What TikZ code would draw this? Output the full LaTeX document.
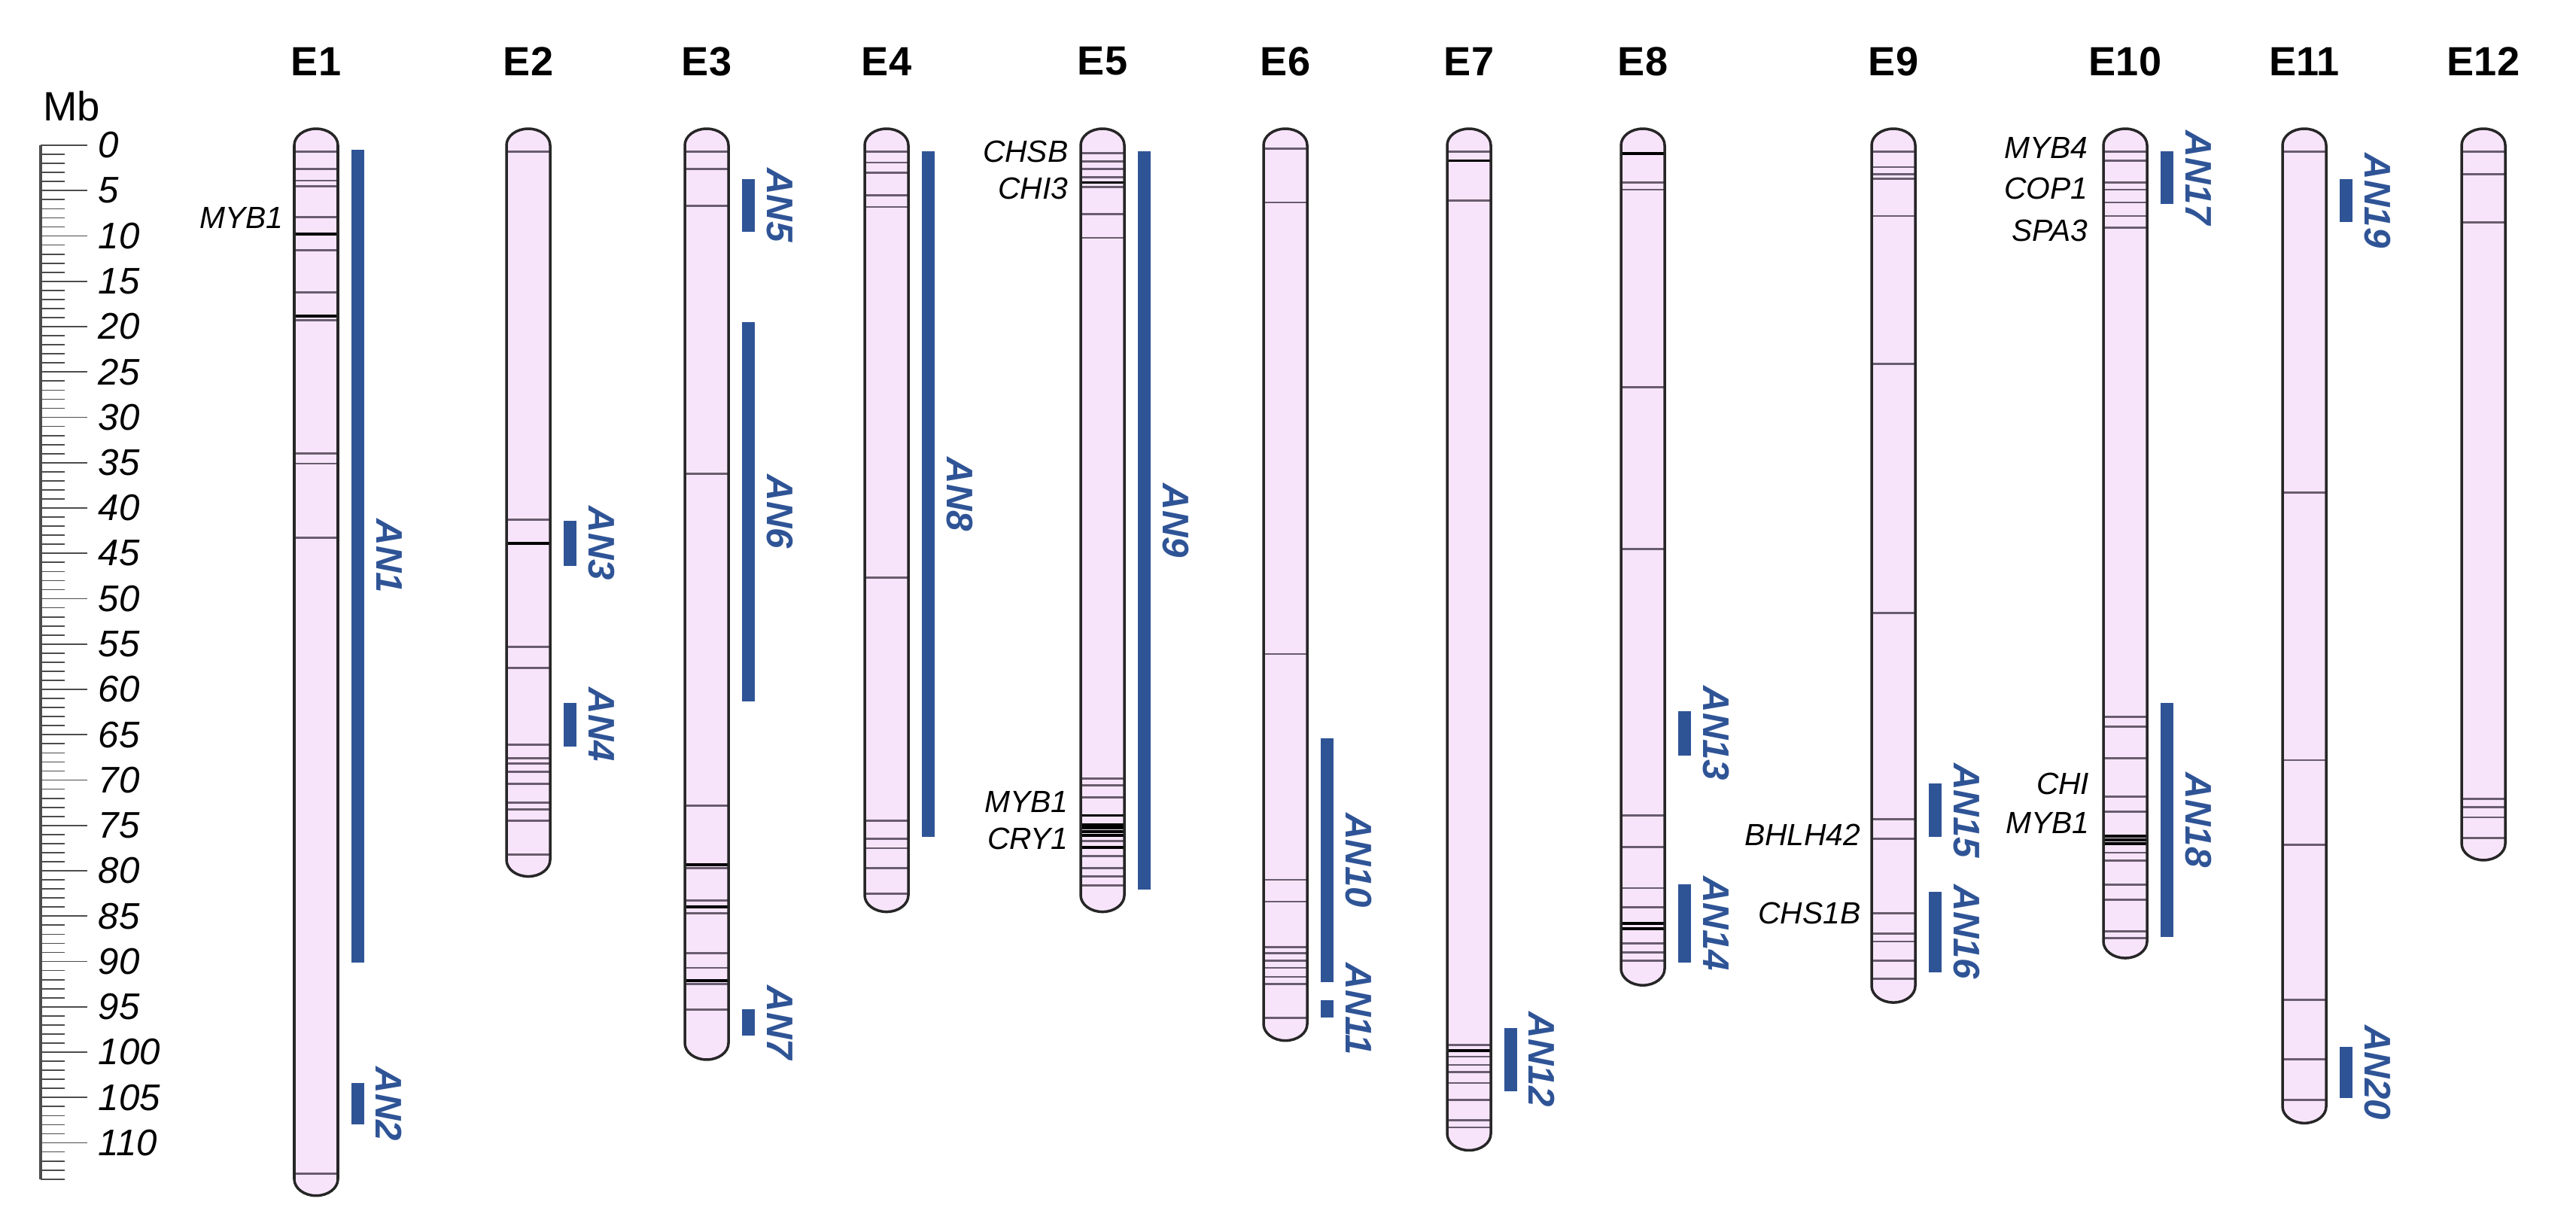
\documentclass[tikz,border=0pt]{standalone}
\usepackage{fontspec}
\setmainfont{Liberation Sans}
\usepackage{xcolor}
\definecolor{chromfill}{RGB}{247,228,250}
\definecolor{anblue}{RGB}{47,84,150}
\definecolor{bandgray}{RGB}{105,92,110}

% linkage group: name, centre x, length (Mb), bands, dark bands
\newcommand{\chrom}[5]{%
  \fill[chromfill] (#2-29,0) arc[start angle=180,end angle=0,x radius=2.9mm,y radius=2.2mm]
    -- (#2+29,#3) arc[start angle=0,end angle=-180,x radius=2.9mm,y radius=2.2mm] -- cycle;
  \foreach \b in {#4} \draw[band] (#2-29,\b) -- (#2+29,\b);
  \if\relax\detokenize{#5}\relax\else
    \foreach \b in {#5} \draw[darkband] (#2-29,\b) -- (#2+29,\b);
  \fi
  \draw[chromo] (#2-29,0) arc[start angle=180,end angle=0,x radius=2.9mm,y radius=2.2mm]
    -- (#2+29,#3) arc[start angle=0,end angle=-180,x radius=2.9mm,y radius=2.2mm] -- cycle;
  \node[chrlab] (#1) at (#2,-9.25) {#1};
}
% QTL bar beside a group: centre x of group, from, to, label
\newcommand{\anbar}[4]{%
  \fill[anblue] (#1+47,#2) rectangle (#1+64,#3);
  \node[anlab] (#4) at (#1+97,{(#2+#3)/2}) {#4};
}

\begin{document}
\begin{tikzpicture}[x=0.1mm, y=-1.205mm,
    chromo/.style = {draw=black!85, line width=1pt},
    band/.style = {draw=bandgray, line width=0.8pt},
    darkband/.style = {draw=black, line width=1.1pt},
    chrlab/.style = {inner sep=0, font=\bfseries\fontsize{15.4}{18}\selectfont},
    genelab/.style = {anchor=east, inner sep=0, font=\itshape\fontsize{11.6}{14}\selectfont},
    anlab/.style = {rotate=-90, inner sep=0, text=anblue, font=\bfseries\itshape\fontsize{14}{16}\selectfont},
    numlab/.style = {anchor=west, inner sep=0, font=\itshape\fontsize{14}{16}\selectfont},
    tick/.style = {draw=black!70, line width=0.5pt}]
  \useasboundingbox (0,-16.02) rectangle (3423,119.83);

  % scale
  \node[inner sep=0, font=\fontsize{15.5}{18}\selectfont] (mb) at (95,-4.3) {Mb};
  \draw[draw=black!70, line width=1.2pt] (54,0) -- (54,114);
  \foreach \i in {0,...,114} \draw[tick] (54,\i) -- (86,\i);
  \foreach \i in {0,5,...,110} {
    \draw[tick] (54,\i) -- (116,\i);
    \node[numlab] (n\i) at (130,\i) {\i};
  }

  \chrom{E1}{420}{114}{0.7,2.6,3.9,4.5,7.9,11.6,16.2,19.3,34.0,35.1,43.3,113.4}{9.8,18.8}
  \chrom{E2}{702}{78.8}{0.7,41.3,55.3,57.6,66.1,67.6,68.2,69.1,70.4,72.5,73.2,74.5,78.2}{43.9}
  \chrom{E3}{939}{99}{0.7,2.6,6.7,36.2,72.8,79.7,83.3,84.7,89.1,90.7,92.5,95.3}{79.3,84.0,92.1}
  \chrom{E4}{1178}{82.7}{0.7,1.9,3.0,5.5,6.8,47.7,74.5,76.5,77.5,79.7,82.5}{}
  \chrom{E5}{1465}{82.7}{0.9,1.75,2.6,3.5,4.6,7.6,10.2,69.8,70.6,71.9,76.7,78.4,79.7,80.6,81.6}{4.1,73.9,74.9,75.3,75.7,76.1,77.4}
  \chrom{E6}{1708}{96.9}{0.4,6.3,56.1,81.0,83.4,88.4,89.1,89.9,90.7,91.7,92.5,96.2}{}
  \chrom{E7}{1952}{109}{0.7,6.1,99.2,100.5,101.4,102.2,103.4,105.3,107.5,108.3}{1.7,99.8}
  \chrom{E8}{2183}{90.8}{4.1,4.9,26.7,44.5,73.9,77.4,81.9,84.0,88.0,89.0,89.9}{0.9,85.8,86.4}
  \chrom{E9}{2516}{92.7}{0.7,2.4,3.2,3.7,7.8,24.1,51.6,74.3,76.5,84.7,86.9,87.8,89.9,91.9}{}
  \chrom{E10}{2824}{87.8}{0.7,1.7,4.1,4.9,6.3,7.8,9.1,63.0,64.1,67.6,71.8,73.5,78.0,78.9,81.5,83.2,86.7,87.4}{76.2,76.6,77.0}
  \chrom{E11}{3062}{106}{0.7,38.3,67.8,77.1,94.2,100.8,105.3}{}
  \chrom{E12}{3300}{77}{0.7,3.2,8.5,72.1,73.0,74.1,76.4}{}

  \anbar{420}{0.5}{90.1}{AN1}
  \anbar{420}{103.4}{108.0}{AN2}
  \anbar{702}{41.4}{46.4}{AN3}
  \anbar{702}{61.5}{66.3}{AN4}
  \anbar{939}{3.7}{9.5}{AN5}
  \anbar{939}{19.5}{61.3}{AN6}
  \anbar{939}{95.3}{98.2}{AN7}
  \anbar{1178}{0.7}{76.3}{AN8}
  \anbar{1465}{0.7}{82.1}{AN9}
  \anbar{1708}{65.4}{92.3}{AN10}
  \anbar{1708}{94.3}{96.2}{AN11}
  \anbar{1952}{97.3}{104.3}{AN12}
  \anbar{2183}{62.4}{67.3}{AN13}
  \anbar{2183}{81.5}{90.1}{AN14}
  \anbar{2516}{70.4}{76.3}{AN15}
  \anbar{2516}{82.3}{91.2}{AN16}
  \anbar{2824}{0.7}{6.5}{AN17}
  \anbar{2824}{61.5}{87.3}{AN18}
  \anbar{3062}{3.7}{8.5}{AN19}
  \anbar{3062}{99.4}{105.1}{AN20}

  % genes
  \node[genelab] (myb1a) at (377,8.0) {MYB1};
  \node[genelab] (chsb) at (1420,0.7) {CHSB};
  \node[genelab] (chi3) at (1420,4.8) {CHI3};
  \node[genelab] (myb1b) at (1420,72.4) {MYB1};
  \node[genelab] (cry1) at (1420,76.5) {CRY1};
  \node[genelab] (bhlh42) at (2473,76.0) {BHLH42};
  \node[genelab] (chs1b) at (2473,84.7) {CHS1B};
  \node[genelab] (myb4) at (2775,0.3) {MYB4};
  \node[genelab] (cop1) at (2775,4.8) {COP1};
  \node[genelab] (spa3) at (2775,9.4) {SPA3};
  \node[genelab] (chi) at (2777,70.4) {CHI};
  \node[genelab] (myb1c) at (2777,74.7) {MYB1};
\end{tikzpicture}
\end{document}
